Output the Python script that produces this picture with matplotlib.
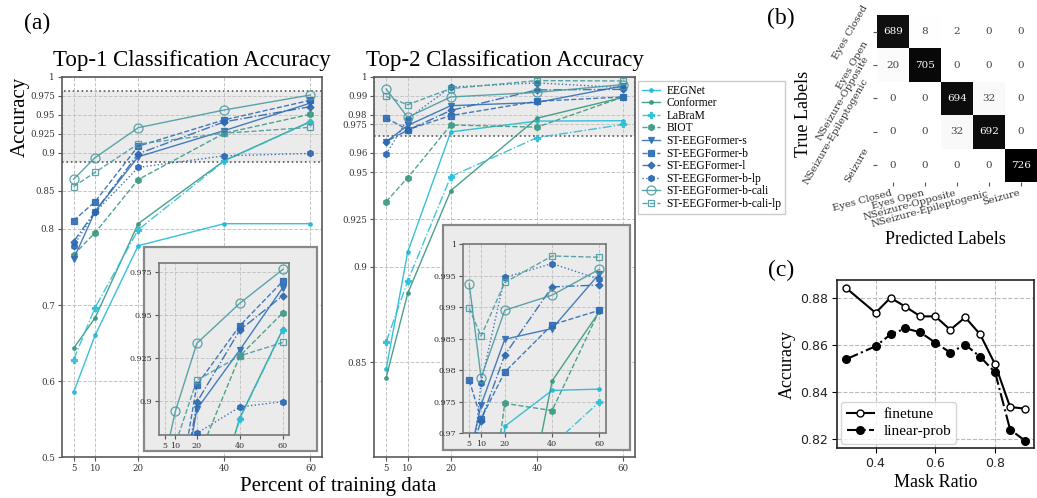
import numpy as np
import matplotlib
matplotlib.use('Agg')
import matplotlib.pyplot as plt
from matplotlib.patches import Rectangle

W, H = 1037, 498
plt.rcParams['font.family'] = 'DejaVu Serif'
SERIF = 'Liberation Serif'

# ---------------- data ----------------
pct = [5, 10, 20, 40, 60]
model_names = ['EEGNet', 'Conformer', 'LaBraM', 'BIOT', 'ST-EEGFormer-s',
               'ST-EEGFormer-b', 'ST-EEGFormer-l', 'ST-EEGFormer-b-lp',
               'ST-EEGFormer-b-cali', 'ST-EEGFormer-b-cali-lp']

top1_eegnet = [0.585, 0.660, 0.778, 0.807, 0.807]
top1_conformer = [0.643, 0.683, 0.807, 0.890, 0.9415]
top1_labram = [0.628, 0.6965, 0.799, 0.8895, 0.941]
top1_biot = [0.766, 0.795, 0.865, 0.926, 0.951]
top1_s = [0.7605, 0.823, 0.895, 0.9295, 0.9657]
top1_b = [0.811, 0.836, 0.909, 0.9436, 0.9694]
top1_l = [0.7833, 0.823, 0.899, 0.941, 0.961]
top1_blp = [0.778, 0.822, 0.881, 0.8963, 0.8994]
top1_cali = [0.8654, 0.8938, 0.9333, 0.9566, 0.9763]
top1_calilp = [0.8557, 0.8746, 0.9118, 0.926, 0.9338]

top2_eegnet = [0.8462, 0.9079, 0.9711, 0.9768, 0.977]
top2_conformer = [0.8418, 0.8861, 0.9402, 0.9783, 0.9893]
top2_labram = [0.8606, 0.8926, 0.9476, 0.9681, 0.975]
top2_biot = [0.9344, 0.947, 0.97475, 0.9736, 0.9895]
top2_s = [0.966, 0.9745, 0.9849, 0.9866, 0.9953]
top2_b = [0.9784, 0.9723, 0.9797, 0.9872, 0.9895]
top2_l = [0.966, 0.972, 0.9824, 0.9932, 0.9935]
top2_blp = [0.9594, 0.978, 0.9947, 0.9969, 0.9944]
top2_cali = [0.9937, 0.9788, 0.9895, 0.9919, 0.996]
top2_calilp = [0.9898, 0.9854, 0.9939, 0.9981, 0.9979]

top1_all = [top1_eegnet, top1_conformer, top1_labram, top1_biot, top1_s,
            top1_b, top1_l, top1_blp, top1_cali, top1_calilp]
top2_all = [top2_eegnet, top2_conformer, top2_labram, top2_biot, top2_s,
            top2_b, top2_l, top2_blp, top2_cali, top2_calilp]

top1_yticks = [0.5, 0.6, 0.7, 0.8, 0.85, 0.9, 0.925, 0.95, 0.975, 1.0]
top1_yticklabels = ['0.5', '0.6', '0.7', '0.8', '0.85', '0.9', '0.925', '0.95', '0.975', '1']
top2_yticks = [0.85, 0.9, 0.925, 0.95, 0.96, 0.975, 0.98, 0.99, 1.0]
top2_yticklabels = ['0.85', '0.9', '0.925', '0.95', '0.96', '0.975', '0.98', '0.99', '1']
inset1_yticks = [0.9, 0.925, 0.95, 0.975]
inset1_yticklabels = ['0.9', '0.925', '0.95', '0.975']
inset2_yticks = [0.97, 0.975, 0.98, 0.985, 0.99, 0.995, 1.0]
inset2_yticklabels = ['0.97', '0.975', '0.98', '0.985', '0.99', '0.995', '1']

class_labels = ['Eyes Closed', 'Eyes Open', 'NSeizure-Opposite',
                'NSeizure-Epileptogenic', 'Seizure']
conf = np.array([[689, 8, 2, 0, 0],
                 [20, 705, 0, 0, 0],
                 [0, 0, 694, 32, 0],
                 [0, 0, 32, 692, 0],
                 [0, 0, 0, 0, 726]])

mask_ratio = [0.3, 0.4, 0.45, 0.5, 0.55, 0.6, 0.65, 0.7, 0.75, 0.8, 0.85, 0.9]
finetune = [0.8845, 0.8738, 0.8802, 0.8764, 0.8723, 0.8723, 0.8666, 0.8719,
            0.8646, 0.8519, 0.8338, 0.8331]
linear_prob = [0.8540, 0.8596, 0.8646, 0.8672, 0.8655, 0.8611, 0.8569, 0.8603,
               0.8551, 0.8485, 0.8242, 0.8195]

# ---------------- styles ----------------
styles = [
    dict(color='#22bad5', ls='-', marker='.', ms=5, mfc=None),
    dict(color='#37977f', ls='-', marker='.', ms=5, mfc=None),
    dict(color='#2cbfd9', ls='-.', marker='P', ms=4.5, mfc=None),
    dict(color='#3c9a84', ls='--', marker='h', ms=4.5, mfc=None),
    dict(color='#3270b6', ls='-', marker='v', ms=4, mfc=None),
    dict(color='#2f6cb4', ls='--', marker='s', ms=4, mfc=None),
    dict(color='#2c69b0', ls='-.', marker='D', ms=3.5, mfc=None),
    dict(color='#2a67b3', ls=':', marker='h', ms=4.5, mfc=None),
    dict(color='#4b9ba1', ls='-', marker='o', ms=6.5, mfc='none'),
    dict(color='#4b9ba1', ls='--', marker='s', ms=4.5, mfc='none'),
]

fig = plt.figure(figsize=(W / 100, H / 100), dpi=100)


def axes_px(x0, y0, x1, y1, **kw):
    return fig.add_axes([x0 / W, 1 - y1 / H, (x1 - x0) / W, (y1 - y0) / H], **kw)


def draw_series(ax, data, lw=1.0):
    handles = []
    for name, vals, st in zip(model_names, data, styles):
        h, = ax.plot(pct, vals, color=st['color'], ls=st['ls'], lw=lw,
                     marker=st['marker'], ms=st['ms'],
                     mfc=st['mfc'] if st['mfc'] else st['color'],
                     mec=st['color'], mew=0.9, label=name, zorder=3, alpha=0.9)
        handles.append(h)
    return handles


def style_axes(ax, labelsize=6.2, spine_color='#5a5a5a', lw=1.2):
    ax.set_axisbelow(True)
    ax.grid(True, color='#c4c4c4', ls='--', lw=0.7)
    for sp in ax.spines.values():
        sp.set_color(spine_color)
        sp.set_linewidth(lw)
    ax.tick_params(length=3, width=0.8, color='#555555', labelsize=labelsize,
                   pad=2, labelcolor='#333333')


# ---------------- Top-1 ----------------
ax1 = axes_px(61.7, 77, 322.3, 457)
h = draw_series(ax1, top1_all)
ax1.set_ylim(0.5, 1.0)
ax1.set_xticks(pct)
ax1.set_yticks(top1_yticks)
ax1.set_yticklabels(top1_yticklabels)
style_axes(ax1)
ax1.axhspan(0.8886, 0.982, facecolor='#ebebeb', edgecolor='#555555', ls=':', lw=1.2, zorder=0.2)
ax1.add_patch(Rectangle((0.317, 0.0166), 0.664, 0.535, transform=ax1.transAxes,
                        facecolor='#ebebeb', edgecolor='#888888', lw=1.6, zorder=5))
ax1.set_title('Top-1 Classification Accuracy', family=SERIF, fontsize=16.5, pad=8)

in1 = axes_px(158.7, 262.7, 288.7, 435, facecolor='#ebebeb')
draw_series(in1, top1_all)
in1.set_ylim(0.88, 0.9802)
in1.set_xticks(pct)
in1.set_yticks(inset1_yticks)
in1.set_yticklabels(inset1_yticklabels)
style_axes(in1, labelsize=5.8, spine_color='#777777', lw=1.2)
in1.set_xlim(ax1.get_xlim())

# ---------------- Top-2 ----------------
ax2 = axes_px(374.3, 77, 635, 457)
draw_series(ax2, top2_all)
ax2.set_ylim(0.8, 1.0)
ax2.set_xticks(pct)
ax2.set_yticks(top2_yticks)
ax2.set_yticklabels(top2_yticklabels)
style_axes(ax2)
ax2.axhspan(0.9687, 1.0003, facecolor='#ebebeb', edgecolor='#555555', ls=':', lw=1.2, zorder=0.2)
ax2.add_patch(Rectangle((0.2647, 0.0184), 0.716, 0.5926, transform=ax2.transAxes,
                        facecolor='#ebebeb', edgecolor='#888888', lw=1.6, zorder=5))
ax2.set_title('Top-2 Classification Accuracy', family=SERIF, fontsize=16.5, pad=8)

in2 = axes_px(462.7, 244, 606, 433.3, facecolor='#ebebeb')
draw_series(in2, top2_all)
in2.set_ylim(0.97, 1.0)
in2.set_xticks(pct)
in2.set_yticks(inset2_yticks)
in2.set_yticklabels(inset2_yticklabels)
style_axes(in2, labelsize=5.8, spine_color='#777777', lw=1.2)
in2.set_xlim(ax2.get_xlim())

fig.text(20 / W, 1 - 117 / H, 'Accuracy', family=SERIF, fontsize=15, rotation=90,
         ha='center', va='center')
fig.text(338 / W, 1 - 486 / H, 'Percent of training data', family=SERIF, fontsize=15,
         ha='center', va='center')
fig.text(37 / W, 1 - 23 / H, '(a)', family=SERIF, fontsize=17, ha='center', va='center')

leg = fig.legend(h, model_names, loc='upper left', bbox_to_anchor=(638 / W, 1 - 80.7 / H),
                 bbox_transform=fig.transFigure, borderaxespad=0,
                 prop={'family': SERIF, 'size': 8.3}, labelspacing=0.05,
                 handlelength=1.6, handletextpad=0.5, borderpad=0.35,
                 fancybox=False, edgecolor='#cccccc', framealpha=1)

# ---------------- (b) confusion matrix ----------------
axb = axes_px(877, 15.3, 1037, 181.7)
axb.imshow(conf, cmap='Greys', vmin=0, vmax=conf.max(), aspect='auto',
           interpolation='nearest')
for i in range(conf.shape[0]):
    for j in range(conf.shape[1]):
        v = conf[i, j]
        axb.text(j, i, str(v), ha='center', va='center', fontsize=7.5,
                 color='white' if v > conf.max() / 2 else '#444444')
for sp in axb.spines.values():
    sp.set_visible(False)
axb.set_xticks(range(5))
axb.set_yticks(range(5))
axb.set_xticklabels(class_labels, rotation=15, ha='right', fontsize=7.2)
axb.set_yticklabels(class_labels, rotation=60, fontsize=7.2, va='center')
axb.tick_params(length=3, width=0.8, color='#555555', labelcolor='#333333', pad=2)
fig.text(803 / W, 1 - 114 / H, 'True Labels', family=SERIF, fontsize=13, rotation=90,
         ha='center', va='center')
fig.text(945 / W, 1 - 240 / H, 'Predicted Labels', family=SERIF, fontsize=13,
         ha='center', va='center')
fig.text(781 / W, 1 - 18 / H, '(b)', family=SERIF, fontsize=17, ha='center', va='center')

# ---------------- (c) mask ratio ----------------
axc = axes_px(836.7, 280, 1034, 448.3)
axc.plot(mask_ratio, finetune, color='black', ls='-', lw=1.5, marker='o', ms=5,
         mfc='white', mec='black', mew=1.0, label='finetune')
axc.plot(mask_ratio, linear_prob, color='black', ls='-.', lw=1.5, marker='o', ms=5.5,
         mfc='black', mec='black', label='linear-prob')
axc.set_axisbelow(True)
axc.grid(True, color='#bbbbbb', ls='--', lw=0.8)
axc.set_xticks([0.4, 0.6, 0.8])
axc.set_yticks([0.82, 0.84, 0.86, 0.88])
for lbl in axc.get_xticklabels() + axc.get_yticklabels():
    lbl.set_family('DejaVu Sans')
axc.tick_params(length=3.5, width=0.8, labelsize=9, pad=3, labelcolor='#222222')
for sp in axc.spines.values():
    sp.set_linewidth(1.2)
    sp.set_color('#222222')
axc.set_xlabel('Mask Ratio', family=SERIF, fontsize=13, labelpad=3)
axc.set_ylabel('Accuracy', family=SERIF, fontsize=13, labelpad=3)
axc.legend(loc='lower left', prop={'family': SERIF, 'size': 11}, labelspacing=0.25,
           handlelength=1.8, handletextpad=0.6, borderpad=0.35, borderaxespad=0.3,
           fancybox=True, edgecolor='#cccccc')
fig.text(781 / W, 1 - 270 / H, '(c)', family=SERIF, fontsize=17, ha='center', va='center')

fig.savefig('out.png', dpi=100)
